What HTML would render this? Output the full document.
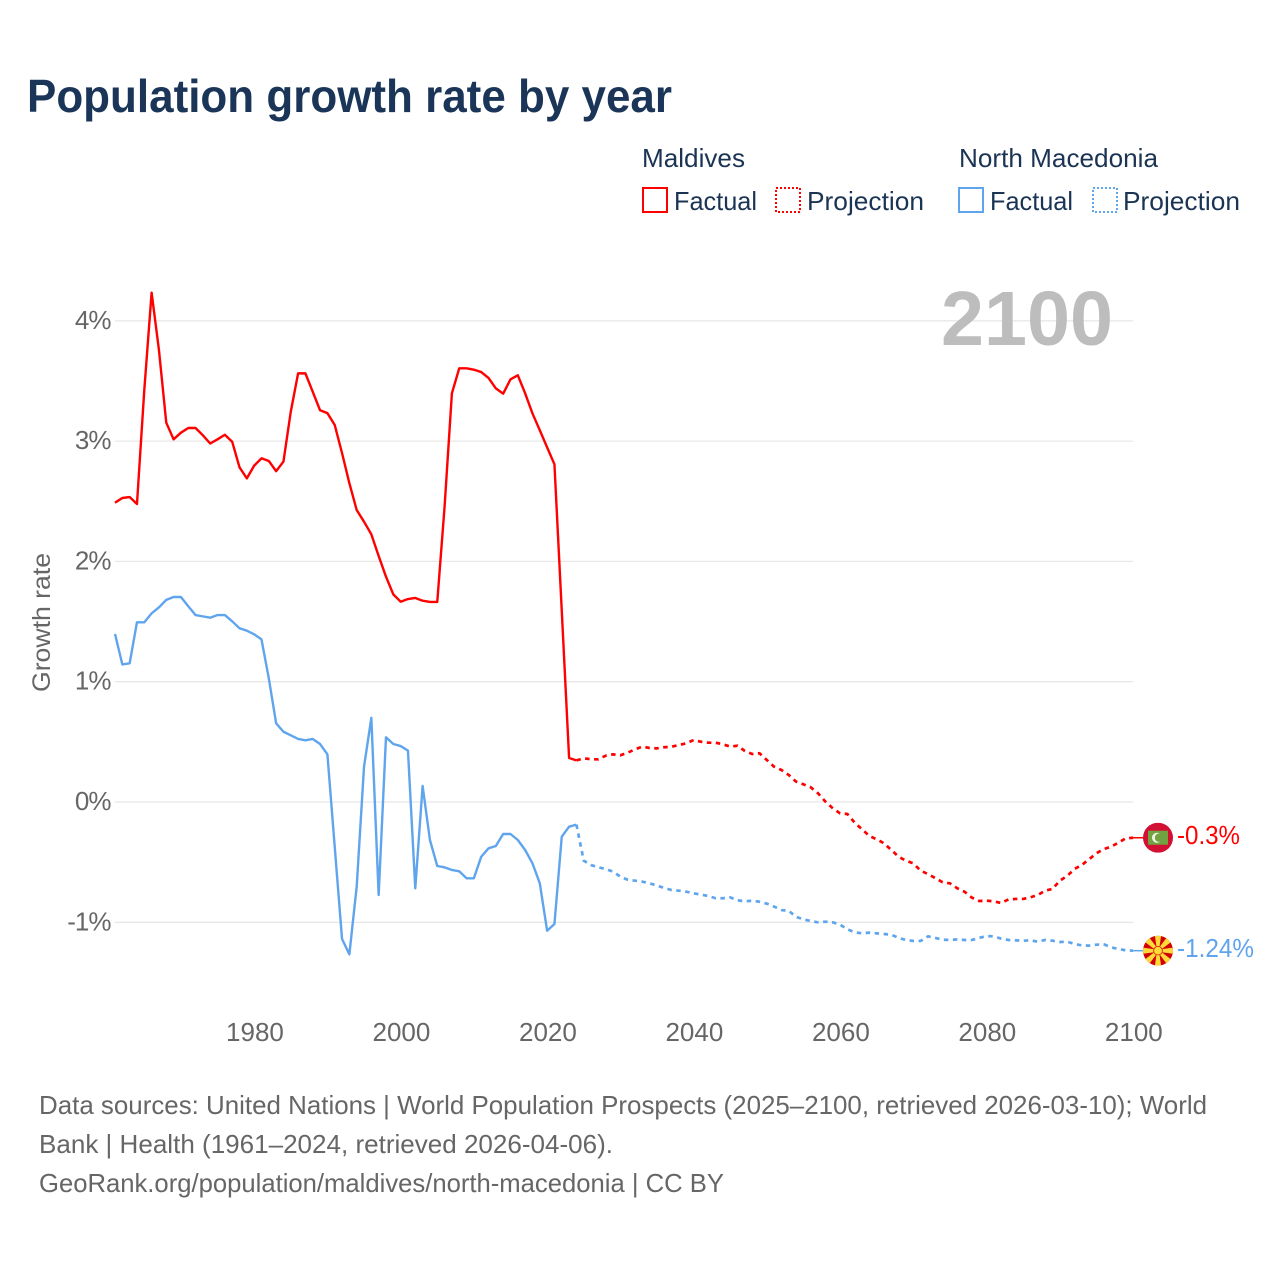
<!DOCTYPE html>
<html lang="en">
<head>
<meta charset="utf-8">
<title>Population growth rate by year</title>
<style>
html,body{margin:0;padding:0;background:#fff;}
svg{display:block;font-family:"Liberation Sans",sans-serif;}
.leg{font-size:26px;fill:#1b3454;}
.tick{font-size:26px;fill:#666;}
.foot{font-size:26px;fill:#666;}
</style>
</head>
<body>
<svg id="chart" width="1280" height="1280" viewBox="0 0 1280 1280" xmlns="http://www.w3.org/2000/svg">
  <rect width="1280" height="1280" fill="#fff"/>
  <text x="27" y="112" font-size="46" font-weight="700" fill="#1a3557" textLength="645" lengthAdjust="spacingAndGlyphs">Population growth rate by year</text>

  <g>
    <text class="leg" x="642" y="167" textLength="103" lengthAdjust="spacingAndGlyphs">Maldives</text>
    <rect x="643" y="188" width="24" height="24" fill="none" stroke="#ff0000" stroke-width="2"/>
    <text class="leg" x="674" y="210" textLength="83" lengthAdjust="spacingAndGlyphs">Factual</text>
    <rect x="776" y="188" width="24" height="24" fill="none" stroke="#ff0000" stroke-width="2" stroke-dasharray="2 2"/>
    <text class="leg" x="807" y="210" textLength="117" lengthAdjust="spacingAndGlyphs">Projection</text>
    <text class="leg" x="959" y="167" textLength="199" lengthAdjust="spacingAndGlyphs">North Macedonia</text>
    <rect x="959" y="188" width="24" height="24" fill="none" stroke="#5fa5ee" stroke-width="2"/>
    <text class="leg" x="990" y="210" textLength="83" lengthAdjust="spacingAndGlyphs">Factual</text>
    <rect x="1093" y="188" width="24" height="24" fill="none" stroke="#5fa5ee" stroke-width="2" stroke-dasharray="2 2"/>
    <text class="leg" x="1123" y="210" textLength="117" lengthAdjust="spacingAndGlyphs">Projection</text>
  </g>

  <g id="grid"></g>
  <g id="yticks"></g>
  <g id="xticks"></g>

  <text x="941" y="345" font-size="77" font-weight="700" fill="#bdbdbd" textLength="172" lengthAdjust="spacingAndGlyphs">2100</text>
  <text transform="translate(50,692) rotate(-90)" font-size="25" fill="#666" textLength="139" lengthAdjust="spacingAndGlyphs">Growth rate</text>

  <g id="series"></g>

  <defs>
    <clipPath id="flag-clip-mv"><circle r="15"/></clipPath>
    <clipPath id="flag-clip-mk"><circle r="15"/></clipPath>
  </defs>

  <g id="flag-mv" clip-path="url(#flag-clip-mv)">
    <rect x="-15" y="-15" width="30" height="30" fill="#d21034"/>
    <rect x="-10" y="-7" width="20" height="14" fill="#71a440"/>
    <circle cx="-1" cy="0" r="5" fill="#f4f4ea"/>
    <circle cx="1" cy="0" r="4.2" fill="#71a440"/>
  </g>
  <g id="flag-mk" clip-path="url(#flag-clip-mk)">
    <rect x="-15" y="-15" width="30" height="30" fill="#d20000"/>
    <g fill="#ffd83a">
      <polygon points="-1,0 1,0 3.2,-16 -3.2,-16"/>
      <polygon points="-1,0 1,0 3.2,-16 -3.2,-16" transform="rotate(45)"/>
      <polygon points="-1,0 1,0 3.2,-16 -3.2,-16" transform="rotate(90)"/>
      <polygon points="-1,0 1,0 3.2,-16 -3.2,-16" transform="rotate(135)"/>
      <polygon points="-1,0 1,0 3.2,-16 -3.2,-16" transform="rotate(180)"/>
      <polygon points="-1,0 1,0 3.2,-16 -3.2,-16" transform="rotate(225)"/>
      <polygon points="-1,0 1,0 3.2,-16 -3.2,-16" transform="rotate(270)"/>
      <polygon points="-1,0 1,0 3.2,-16 -3.2,-16" transform="rotate(315)"/>
    </g>
    <circle r="4.7" fill="#d20000"/>
    <circle r="4" fill="#ffd83a"/>
  </g>

  <text id="value-mv" x="1177" font-size="26" fill="#ff0000" textLength="63" lengthAdjust="spacingAndGlyphs"></text>
  <text id="value-mk" x="1177" font-size="26" fill="#5fa5ee" textLength="77" lengthAdjust="spacingAndGlyphs"></text>

  <g>
    <text class="foot" x="39" y="1114" textLength="1168" lengthAdjust="spacingAndGlyphs">Data sources: United Nations | World Population Prospects (2025–2100, retrieved 2026-03-10); World</text>
    <text class="foot" x="39" y="1153" textLength="574" lengthAdjust="spacingAndGlyphs">Bank | Health (1961–2024, retrieved 2026-04-06).</text>
    <text class="foot" x="39" y="1192" textLength="685" lengthAdjust="spacingAndGlyphs">GeoRank.org/population/maldives/north-macedonia | CC BY</text>
  </g>
</svg>

<script>
const factualStartYear = 1961;
const projectionStartYear = 2024;
const xTickYears = [1980, 2000, 2020, 2040, 2060, 2080, 2100];
const yTickValues = [4, 3, 2, 1, 0, -1];
const yTickLabels = ["4%", "3%", "2%", "1%", "0%", "-1%"];

const maldivesFactual = [
  2.488, 2.527, 2.535, 2.477, 3.425, 4.234, 3.757, 3.153, 3.015, 3.07,
  3.109, 3.109, 3.048, 2.98, 3.015, 3.053, 2.995, 2.782, 2.69, 2.796,
  2.857, 2.835, 2.75, 2.83, 3.245, 3.563, 3.563, 3.41, 3.256, 3.233,
  3.134, 2.9, 2.65, 2.427, 2.33, 2.225, 2.045, 1.873, 1.726, 1.665,
  1.687, 1.696, 1.673, 1.663, 1.663, 2.455, 3.397, 3.605, 3.605, 3.594,
  3.574, 3.525, 3.438, 3.394, 3.514, 3.547, 3.397, 3.23, 3.09, 2.948,
  2.807, 1.59, 0.366, 0.346
];
const maldivesProjection = [
  0.346, 0.363, 0.355, 0.355, 0.385, 0.396, 0.388, 0.41, 0.438, 0.46,
  0.449, 0.446, 0.455, 0.46, 0.474, 0.488, 0.515, 0.501, 0.493, 0.493,
  0.48, 0.46, 0.468, 0.424, 0.399, 0.405, 0.349, 0.293, 0.266, 0.224,
  0.169, 0.147, 0.122, 0.072, 0.003, -0.052, -0.094, -0.1, -0.172, -0.227,
  -0.283, -0.31, -0.343, -0.399, -0.455, -0.488, -0.51, -0.571, -0.599, -0.632,
  -0.667, -0.676, -0.717, -0.746, -0.795, -0.823, -0.82, -0.826, -0.84, -0.809,
  -0.806, -0.806, -0.792, -0.773, -0.737, -0.723, -0.654, -0.615, -0.557, -0.524,
  -0.476, -0.426, -0.391, -0.372, -0.338, -0.302, -0.297
];
const macedoniaFactual = [
  1.397, 1.144, 1.153, 1.494, 1.494, 1.568, 1.618, 1.68, 1.704, 1.704,
  1.627, 1.554, 1.543, 1.532, 1.554, 1.554, 1.502, 1.444, 1.424, 1.394,
  1.352, 1.028, 0.654, 0.584, 0.554, 0.524, 0.513, 0.524, 0.482, 0.396,
  -0.372, -1.139, -1.266, -0.704, 0.293, 0.7, -0.773, 0.538, 0.482, 0.465,
  0.427, -0.717, 0.133, -0.316, -0.532, -0.543, -0.565, -0.576, -0.634, -0.634,
  -0.455, -0.385, -0.366, -0.266, -0.266, -0.316, -0.399, -0.51, -0.676, -1.07,
  -1.014, -0.288, -0.205, -0.188
];
const macedoniaProjection = [
  -0.188, -0.488, -0.524, -0.543, -0.557, -0.579, -0.62, -0.646, -0.654, -0.662,
  -0.676, -0.695, -0.715, -0.732, -0.737, -0.746, -0.759, -0.77, -0.781, -0.8,
  -0.8, -0.793, -0.817, -0.826, -0.82, -0.829, -0.845, -0.87, -0.898, -0.905,
  -0.955, -0.975, -0.99, -1.0, -0.995, -1.0, -1.02, -1.058, -1.083, -1.092,
  -1.086, -1.092, -1.097, -1.103, -1.13, -1.147, -1.155, -1.155, -1.117, -1.13,
  -1.145, -1.147, -1.142, -1.147, -1.147, -1.13, -1.114, -1.117, -1.136, -1.147,
  -1.15, -1.153, -1.15, -1.161, -1.147, -1.153, -1.164, -1.161, -1.18, -1.192,
  -1.194, -1.186, -1.183, -1.208, -1.222, -1.233, -1.236
];
const maldivesEndLabel = "-0.3%";
const macedoniaEndLabel = "-1.24%";

const SVG_NS = "http://www.w3.org/2000/svg";
const xScale = function (year) { return 115 + (year - 1961) * 7.324; };
const yScale = function (value) { return 802 - value * 120.3; };

const grid = document.getElementById("grid");
const yticks = document.getElementById("yticks");
const xticks = document.getElementById("xticks");
const series = document.getElementById("series");

yTickValues.forEach(function (value, i) {
  const line = document.createElementNS(SVG_NS, "line");
  
  
  line.setAttribute("x1", xScale(factualStartYear));
  line.setAttribute("x2", xScale(2100));
  line.setAttribute("y1", yScale(value));
  line.setAttribute("y2", yScale(value));
  line.setAttribute("stroke", "#e8e8e8");
  line.setAttribute("stroke-width", "1.3");
  grid.appendChild(line);

  const label = document.createElementNS(SVG_NS, "text");
  
  
  label.setAttribute("class", "tick");
  label.setAttribute("x", 110.5);
  label.setAttribute("y", yScale(value) + 8);
  label.setAttribute("text-anchor", "end");
  label.setAttribute("letter-spacing", "-1");
  label.textContent = yTickLabels[i];
  yticks.appendChild(label);
});

xTickYears.forEach(function (year) {
  const label = document.createElementNS(SVG_NS, "text");
  
  
  label.setAttribute("class", "tick");
  label.setAttribute("x", xScale(year) + 0.8);
  label.setAttribute("y", 1041);
  label.setAttribute("text-anchor", "middle");
  label.textContent = String(year);
  xticks.appendChild(label);
});

function pathFrom(values, startYear) {
  return values.map(function (v, i) {
    return (i ? "L" : "M") + xScale(startYear + i).toFixed(2) + " " + yScale(v).toFixed(2);
  }).join(" ");
}

function drawLine(values, startYear, color, dashed, name) {
  const path = document.createElementNS(SVG_NS, "path");
  
  
  path.setAttribute("d", pathFrom(values, startYear));
  path.setAttribute("fill", "none");
  path.setAttribute("stroke", color);
  path.setAttribute("stroke-linejoin", "round");
  if (dashed) {
    path.setAttribute("stroke-width", "2.7");
    path.setAttribute("stroke-dasharray", "4.5 4.5");
  } else {
    path.setAttribute("stroke-width", "2.4");
  }
  series.appendChild(path);
}

drawLine(macedoniaFactual, factualStartYear, "#5fa5ee", false, "north-macedonia-factual-line");
drawLine(macedoniaProjection, projectionStartYear, "#5fa5ee", true, "north-macedonia-projection-line");
drawLine(maldivesFactual, factualStartYear, "#ff0000", false, "maldives-factual-line");
drawLine(maldivesProjection, projectionStartYear, "#ff0000", true, "maldives-projection-line");

function placeEnd(values, color, flagId, valueId, labelText, connectorName) {
  const last = values[values.length - 1];
  const y = yScale(last);
  const connector = document.createElementNS(SVG_NS, "line");
  
  
  connector.setAttribute("x1", xScale(2100));
  connector.setAttribute("x2", xScale(2100) + 10);
  connector.setAttribute("y1", y);
  connector.setAttribute("y2", y);
  connector.setAttribute("stroke", color);
  connector.setAttribute("stroke-width", "1.5");
  series.appendChild(connector);
  document.getElementById(flagId).setAttribute("transform", "translate(1158 " + y.toFixed(2) + ")");
  const label = document.getElementById(valueId);
  label.setAttribute("y", (y + 6.5).toFixed(2));
  label.textContent = labelText;
}

placeEnd(maldivesProjection, "#ff0000", "flag-mv", "value-mv", maldivesEndLabel, "maldives-end-connector");
placeEnd(macedoniaProjection, "#5fa5ee", "flag-mk", "value-mk", macedoniaEndLabel, "north-macedonia-end-connector");
</script>
</body>
</html>
